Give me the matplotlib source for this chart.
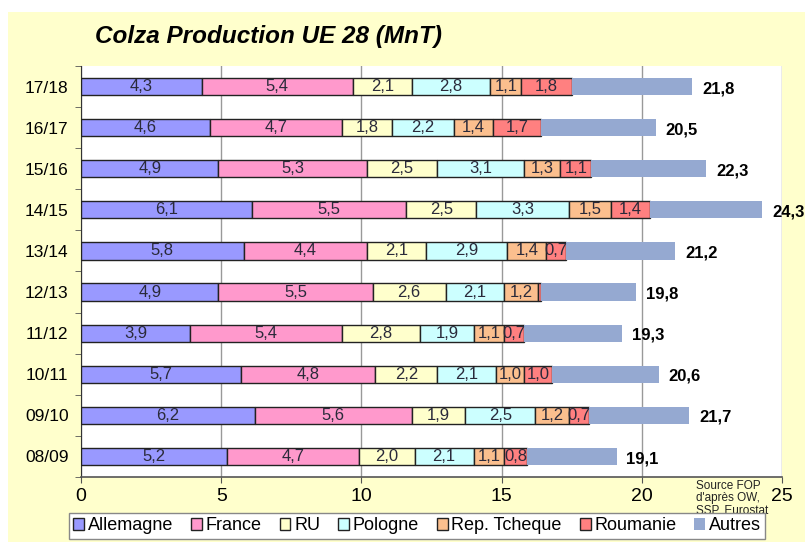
import matplotlib.pyplot as plt
from matplotlib.patches import Rectangle

plt.rcParams['font.family'] = ['Liberation Sans', 'DejaVu Sans']

campagnes = ["17/18", "16/17", "15/16", "14/15", "13/14",
             "12/13", "11/12", "10/11", "09/10", "08/09"]
allemagne = [4.3, 4.6, 4.9, 6.1, 5.8, 4.9, 3.9, 5.7, 6.2, 5.2]
france = [5.4, 4.7, 5.3, 5.5, 4.4, 5.5, 5.4, 4.8, 5.6, 4.7]
ru = [2.1, 1.8, 2.5, 2.5, 2.1, 2.6, 2.8, 2.2, 1.9, 2.0]
pologne = [2.8, 2.2, 3.1, 3.3, 2.9, 2.1, 1.9, 2.1, 2.5, 2.1]
rep_tcheque = [1.1, 1.4, 1.3, 1.5, 1.4, 1.2, 1.1, 1.0, 1.2, 1.1]
roumanie = [1.8, 1.7, 1.1, 1.4, 0.7, 0.1, 0.7, 1.0, 0.7, 0.8]
autres = [4.3, 4.1, 4.1, 4.0, 3.9, 3.4, 3.5, 3.8, 3.6, 3.2]
totaux = [21.8, 20.5, 22.3, 24.3, 21.2, 19.8, 19.3, 20.6, 21.7, 19.1]

series = [
    ("Allemagne", allemagne, "#9999FF"),
    ("France", france, "#FF99CC"),
    ("RU", ru, "#FFFFCC"),
    ("Pologne", pologne, "#CCFFFF"),
    ("Rep. Tcheque", rep_tcheque, "#FBBF8E"),
    ("Roumanie", roumanie, "#FF8080"),
]

fig = plt.figure(figsize=(8.05, 5.42), dpi=100, facecolor="white")
fig.patches.append(Rectangle((8 / 805, 0), 1, 1 - 12 / 542, transform=fig.transFigure,
                             facecolor="#FFFFCC", edgecolor="none", zorder=-10))
ax = fig.add_axes([81 / 805, 65 / 542, 701 / 805, 411 / 542])
ax.set_facecolor("white")

y = list(range(len(campagnes)))
left = [0.0] * len(campagnes)
h = 0.42
for nom, vals, col in series:
    ax.barh(y, vals, left=left, height=h, color=col, edgecolor="#222222",
            linewidth=1, label=nom, zorder=3)
    for yi, v, l in zip(y, vals, left):
        if v >= 0.5:
            ax.text(l + v / 2, yi, f"{v:.1f}".replace(".", ","), ha="center",
                    va="center", fontsize=12, color="#2A2A3A", zorder=4)
    left = [l + v for l, v in zip(left, vals)]

ax.barh(y, autres, left=left, height=h, color="#95A9D1", edgecolor="none",
        label="Autres", zorder=3)
for yi, t, l, a in zip(y, totaux, left, autres):
    ax.text(l + a + 0.35, yi + 0.05, f"{t:.1f}".replace(".", ","), ha="left",
            va="center", fontsize=12, fontweight="bold", color="black", zorder=4,
            clip_on=False)

ax.set_xlim(0, 25)
ax.set_ylim(len(campagnes) - 0.5, -0.5)
ax.set_xticks([0, 5, 10, 15, 20, 25])
ax.tick_params(axis="x", labelsize=14, length=4, color="#555555", pad=4)
ax.set_yticks(y)
ax.set_yticklabels(campagnes, fontsize=12.5)
ax.set_yticks([i + 0.5 for i in range(-1, len(campagnes))], minor=True)
ax.tick_params(axis="y", which="major", length=0, pad=9)
ax.tick_params(axis="y", which="minor", length=4, color="#555555")
ax.grid(axis="x", color="#999999", linewidth=1, zorder=0)
for s in ["top", "right"]:
    ax.spines[s].set_visible(False)
ax.spines["left"].set_color("#333333")
ax.spines["bottom"].set_color("#555555")
ax.spines["bottom"].set_linewidth(1.2)

fig.text(95 / 805, 1 - 37 / 542, "Colza Production UE 28 (MnT)", fontsize=17.5,
         fontweight="bold", fontstyle="italic", va="center", ha="left")

fig.text(696 / 805, 1 - 480 / 542, "Source FOP\nd'après OW,\nSSP, Eurostat",
         fontsize=8.5, va="top", ha="left", linespacing=1.05, color="#222222")

leg = fig.legend(loc="center", bbox_to_anchor=(417 / 805, 1 - 526 / 542), ncol=7,
                 fontsize=13, frameon=True, fancybox=False, edgecolor="#888888",
                 facecolor="white", framealpha=1, handlelength=0.6, handleheight=0.6,
                 handletextpad=0.2, columnspacing=1.0, borderpad=0.25)

plt.savefig("out.png", dpi=100, facecolor=fig.get_facecolor())
